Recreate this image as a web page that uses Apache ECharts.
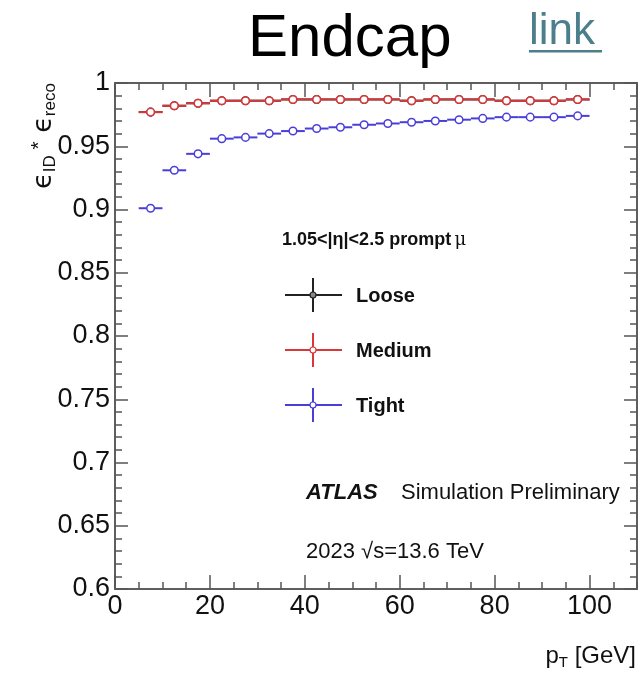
<!DOCTYPE html>
<html>
<head>
<meta charset="utf-8">
<script src="https://cdn.jsdelivr.net/npm/echarts@6/dist/echarts.min.js"></script>
<style>
  html, body { margin: 0; padding: 0; background: #fff; }
  #chart { width: 641px; height: 676px; }
</style>
</head>
<body>
<div id="chart"></div>
<script>
// bin edges in pT [GeV]
const binLow  = [5, 10, 15, 20, 25, 30, 35, 40, 45, 50, 55, 60, 65, 70, 75, 80, 85, 90, 95];
const binHigh = [10, 15, 20, 25, 30, 35, 40, 45, 50, 55, 60, 65, 70, 75, 80, 85, 90, 95, 100];

// efficiencies
const looseEff  = [0.977, 0.982, 0.984, 0.986, 0.986, 0.986, 0.987, 0.987, 0.987, 0.987, 0.987, 0.986, 0.987, 0.987, 0.987, 0.986, 0.986, 0.986, 0.987];
const mediumEff = [0.977, 0.982, 0.984, 0.986, 0.986, 0.986, 0.987, 0.987, 0.987, 0.987, 0.987, 0.986, 0.987, 0.987, 0.987, 0.986, 0.986, 0.986, 0.987];
const tightEff  = [0.901, 0.931, 0.944, 0.956, 0.957, 0.960, 0.962, 0.964, 0.965, 0.967, 0.968, 0.969, 0.970, 0.971, 0.972, 0.973, 0.973, 0.973, 0.974];

const seriesNames = ['Loose', 'Medium', 'Tight'];
const seriesColors = ['#222222', '#d8383a', '#4a3ed8'];

const chart = echarts.init(document.getElementById('chart'));

function toRows(vals) {
  return vals.map((v, i) => [binLow[i], binHigh[i], v]);
}

function renderBin(color) {
  return function (params, api) {
    const y = api.value(2);
    const a = api.coord([api.value(0), y]);
    const b = api.coord([api.value(1), y]);
    return {
      type: 'group',
      children: [
        { type: 'line', shape: { x1: a[0], y1: a[1], x2: b[0], y2: b[1] },
          style: { stroke: color, lineWidth: 2 } },
        { type: 'circle', shape: { cx: (a[0] + b[0]) / 2, cy: a[1], r: 3.8 },
          style: { fill: '#fff', stroke: color, lineWidth: 1.5 } }
      ]
    };
  };
}

const effs = [looseEff, mediumEff, tightEff];
const series = effs.map((vals, i) => ({
  name: seriesNames[i],
  type: 'custom',
  xAxisIndex: 0,
  yAxisIndex: 0,
  renderItem: renderBin(seriesColors[i]),
  encode: { x: [0, 1], y: 2 },
  data: toRows(vals),
  z: 10 + i
}));

const axisColor = '#555';
const labelFont = { color: '#111', fontSize: 27, fontFamily: 'Liberation Sans, Arial, sans-serif' };

// ROOT style frame: each side gets a major-tick axis and a minor-tick axis
function xAx(pos, interval, len, labels) {
  return {
    type: 'value', position: pos, min: 0, max: 110, interval: interval,
    axisLine: { show: true, onZero: false, lineStyle: { color: axisColor, width: 1.5 } },
    axisTick: { show: true, inside: true, length: len, lineStyle: { color: axisColor, width: 1.5 } },
    axisLabel: labels ? Object.assign({ margin: 4, showMaxLabel: false }, labelFont) : { show: false },
    splitLine: { show: false }
  };
}
function yAx(pos, interval, len, labels) {
  return {
    type: 'value', position: pos, min: 0.6, max: 1.0, interval: interval,
    axisLine: { show: true, onZero: false, lineStyle: { color: axisColor, width: 1.5 } },
    axisTick: { show: true, inside: true, length: len, lineStyle: { color: axisColor, width: 1.5 } },
    axisLabel: labels ? Object.assign({ margin: 5 }, labelFont) : { show: false },
    splitLine: { show: false }
  };
}

// legend drawn as error-bar crosses like the ROOT legend
const legendItems = [];
seriesNames.forEach((name, i) => {
  const yc = 295 + i * 55;
  const c = seriesColors[i];
  legendItems.push(
    { type: 'line', shape: { x1: 285, y1: yc, x2: 342, y2: yc }, style: { stroke: c, lineWidth: 2 } },
    { type: 'line', shape: { x1: 313, y1: yc - 17, x2: 313, y2: yc + 17 }, style: { stroke: c, lineWidth: 2 } },
    { type: 'circle', shape: { cx: 313, cy: yc, r: 3 }, style: { fill: i === 0 ? '#888' : '#fff', stroke: c, lineWidth: 1.2 } },
    { type: 'text', x: 356, y: yc + 1, style: { text: name, fill: '#111', font: 'bold 20px Liberation Sans, Arial, sans-serif', verticalAlign: 'middle' } }
  );
});

chart.setOption({
  animation: false,
  backgroundColor: '#fff',
  title: {
    text: 'Endcap', left: 243, top: 4,
    textStyle: { fontSize: 60, fontWeight: 'normal', color: '#000', fontFamily: 'Liberation Sans, Arial, sans-serif' }
  },
  grid: { left: 115, right: 4, top: 83, bottom: 87, containLabel: false },
  xAxis: [
    xAx('bottom', 20, 14, true),
    xAx('bottom', 5, 7, false),
    xAx('top', 20, 14, false),
    xAx('top', 5, 7, false)
  ],
  yAxis: [
    yAx('left', 0.05, 13, true),
    yAx('left', 0.01, 7, false),
    yAx('right', 0.05, 13, false),
    yAx('right', 0.01, 7, false)
  ],
  series: series,
  graphic: [
    { type: 'text', x: 529, y: 10,
      style: { text: 'link', fill: '#4b7f8c', font: '44px Liberation Sans, Arial, sans-serif' } },
    { type: 'rect', shape: { x: 529, y: 50, width: 73, height: 2.5 }, style: { fill: '#4b7f8c' } },
    { type: 'text', x: 44, y: 136, rotation: Math.PI / 2,
      style: {
        text: '{e|ϵ}{s|ID}{st| *}{e| ϵ}{s|reco}',
        align: 'center', verticalAlign: 'middle',
        rich: {
          e: { fontSize: 27, lineHeight: 30, fill: '#111', fontFamily: 'DejaVu Sans' },
          s: { fontSize: 17, lineHeight: 17, verticalAlign: 'bottom', fill: '#111', fontFamily: 'Liberation Sans' },
          st: { fontSize: 21, lineHeight: 21, verticalAlign: 'top', fill: '#111', fontFamily: 'Liberation Sans' }
        }
      } },
    { type: 'text', x: 636, y: 656,
      style: {
        text: '{p|p}{t|T}{p| [GeV]}', align: 'right', verticalAlign: 'middle',
        rich: {
          p: { fontSize: 24, lineHeight: 28, fill: '#111', fontFamily: 'Liberation Sans' },
          t: { fontSize: 15, lineHeight: 15, verticalAlign: 'bottom', fill: '#111', fontFamily: 'Liberation Sans' }
        }
      } },
    { type: 'text', x: 282, y: 240,
      style: {
        text: '{b|1.05<|η|<2.5 prompt} {m|μ}', verticalAlign: 'middle',
        rich: {
          b: { fontSize: 18, fontWeight: 'bold', fill: '#111', fontFamily: 'Liberation Sans' },
          m: { fontSize: 18, fill: '#111', fontFamily: 'DejaVu Serif' }
        }
      } },
    { type: 'group', children: legendItems },
    { type: 'text', x: 306, y: 493,
      style: { text: 'ATLAS', verticalAlign: 'middle', fill: '#111', font: 'italic bold 22px Liberation Sans, Arial, sans-serif' } },
    { type: 'text', x: 401, y: 493,
      style: { text: 'Simulation Preliminary', verticalAlign: 'middle', fill: '#111', font: '22px Liberation Sans, Arial, sans-serif' } },
    { type: 'text', x: 306, y: 552,
      style: { text: '2023 √s=13.6 TeV', verticalAlign: 'middle', fill: '#111', font: '22px Liberation Sans, Arial, sans-serif' } }
  ]
});
</script>
</body>
</html>
